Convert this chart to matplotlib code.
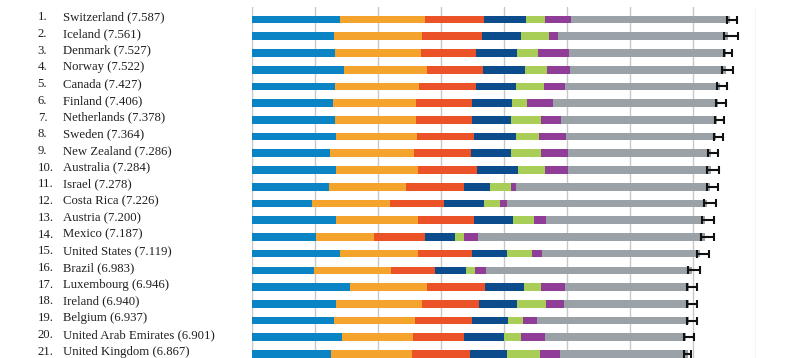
from numpy import *
from matplotlib.pyplot import *
from matplotlib.transforms import blended_transform_factory

# dados (ranking de felicidade, 21 primeiros paises)
paises = [
  "Switzerland", "Iceland", "Denmark", "Norway", "Canada", "Finland",
  "Netherlands", "Sweden", "New Zealand", "Australia", "Israel",
  "Costa Rica", "Austria", "Mexico", "United States", "Brazil",
  "Luxembourg", "Ireland", "Belgium", "United Arab Emirates", "United Kingdom"
]
notas = [7.587, 7.561, 7.527, 7.522, 7.427, 7.406, 7.378, 7.364, 7.286, 7.284,
         7.278, 7.226, 7.200, 7.187, 7.119, 6.983, 6.946, 6.940, 6.937, 6.901, 6.867]

# componentes (na ordem das cores)
pib = [1.397, 1.302, 1.325, 1.459, 1.326, 1.290, 1.329, 1.332, 1.250, 1.334, 1.229,
       0.956, 1.337, 1.021, 1.395, 0.981, 1.564, 1.336, 1.308, 1.427, 1.266]
apoio_social = [1.350, 1.402, 1.361, 1.331, 1.323, 1.318, 1.280, 1.289, 1.320, 1.309, 1.224,
                1.238, 1.297, 0.915, 1.247, 1.233, 1.220, 1.369, 1.286, 1.126, 1.285]
saude = [0.941, 0.948, 0.875, 0.885, 0.906, 0.889, 0.893, 0.911, 0.908, 0.932, 0.914,
         0.860, 0.890, 0.814, 0.862, 0.697, 0.919, 0.895, 0.897, 0.809, 0.909]
liberdade = [0.666, 0.629, 0.649, 0.670, 0.633, 0.642, 0.616, 0.660, 0.639, 0.651, 0.413,
             0.634, 0.624, 0.482, 0.546, 0.490, 0.616, 0.618, 0.585, 0.642, 0.596]
generosidade = [0.297, 0.436, 0.341, 0.347, 0.458, 0.234, 0.476, 0.363, 0.475, 0.436, 0.332,
                0.255, 0.331, 0.141, 0.401, 0.146, 0.280, 0.459, 0.223, 0.264, 0.519]
corrupcao = [0.420, 0.141, 0.484, 0.365, 0.330, 0.414, 0.318, 0.438, 0.429, 0.356, 0.078,
             0.106, 0.187, 0.213, 0.159, 0.175, 0.378, 0.287, 0.225, 0.386, 0.321]
distopia = [2.517, 2.702, 2.492, 2.465, 2.452, 2.620, 2.466, 2.371, 2.264, 2.266, 3.089,
            3.177, 2.533, 3.602, 2.510, 3.260, 1.970, 1.976, 2.415, 2.247, 2.035]

# intervalo de confianca
ic_baixo = [7.541, 7.490, 7.490, 7.462, 7.393, 7.371, 7.355, 7.345, 7.250, 7.234, 7.224,
            7.180, 7.154, 7.132, 7.075, 6.920, 6.904, 6.904, 6.904, 6.860, 6.860]
ic_alto = [7.700, 7.713, 7.623, 7.638, 7.541, 7.525, 7.498, 7.478, 7.399, 7.410, 7.398,
           7.366, 7.339, 7.331, 7.259, 7.116, 7.064, 7.064, 7.064, 7.019, 6.969]

componentes = [pib, apoio_social, saude, liberdade, generosidade, corrupcao, distopia]
cores = ["#0b84c6", "#f4a42c", "#ec5227", "#0c4b8c", "#a8ce57", "#8f3d97", "#9aa2a7"]

fig = figure(figsize = (8, 3.58), dpi = 100)
ax = fig.add_axes([251.7 / 800, 0, (755.7 - 251.7) / 800, 1 - 7 / 358])

y = arange(len(paises))
esquerda = zeros(len(paises))
for valores, cor in zip(componentes, cores):
  ax.barh(y, valores, left = esquerda, height = 0.46, color = cor, linewidth = 0, zorder = 2)
  esquerda = esquerda + array(valores)

# barras de erro
notas_arr = array(notas)
ax.errorbar(
  notas_arr, y,
  xerr = [notas_arr - array(ic_baixo), array(ic_alto) - notas_arr],
  fmt = "none", ecolor = "#111111", elinewidth = 1.5, capsize = 2.6, capthick = 1.5,
  zorder = 3
)

# grade vertical
for g in range(0, 9):
  ax.axvline(g, color = "#c8c8c8", linewidth = 1.0, zorder = 1)

ax.set_xlim(0, 8)
ax.set_ylim(20.24, -0.75)
ax.set_xticks([])
ax.set_yticks([])
for s in ax.spines.values():
  s.set_visible(False)

# rotulos dos paises
trans = blended_transform_factory(fig.transFigure, ax.transData)
for i, (p, n) in enumerate(zip(paises, notas)):
  ax.text(37.7 / 800, i - 0.14, "%d." % (i + 1), transform = trans, ha = "left", va = "center",
          fontsize = 9.2, family = "Liberation Serif", color = "#231f20")
  ax.text(62.7 / 800, i - 0.14, "%s (%.3f)" % (p, n), transform = trans, ha = "left", va = "center",
          fontsize = 9.2, family = "Liberation Serif", color = "#231f20")

savefig("out.png", dpi = 100)
